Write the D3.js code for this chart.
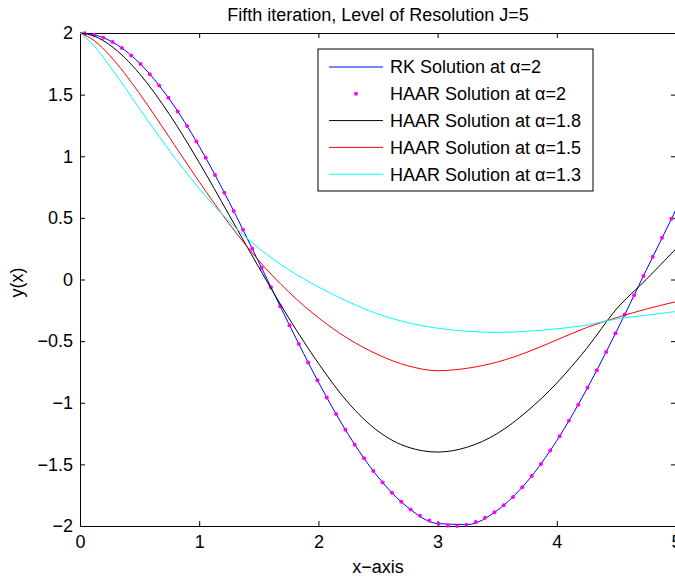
<!DOCTYPE html>
<html>
<head>
<meta charset="utf-8">
<script src="https://cdn.jsdelivr.net/npm/d3@7"></script>
<style>
  body { margin: 0; background: #fff; }
  text { font-family: "Liberation Sans", Arial, Helvetica, sans-serif; }
</style>
</head>
<body>
<div id="chart"></div>
<script>
// grid the solid curves were read on (denser near x=0 where the curves bend fast)
const xGrid = [0, 0.125, 0.25, 0.375, 0.5, 0.75, 1, 1.25, 1.5, 1.75, 2, 2.25, 2.5, 2.75, 3, 3.25, 3.5, 3.75, 4, 4.25, 4.5, 4.75, 5];
const rkY = [2, 1.984, 1.938, 1.861, 1.755, 1.463, 1.081, 0.631, 0.141, -0.356, -0.832, -1.256, -1.602, -1.849, -1.98, -1.988, -1.873, -1.641, -1.307, -0.892, -0.422, 0.075, 0.567];
const haar18Y = [2, 1.972, 1.903, 1.8, 1.669, 1.34, 0.949, 0.525, 0.099, -0.31, -0.68, -1.0, -1.23, -1.36, -1.40, -1.36, -1.25, -1.07, -0.84, -0.56, -0.24, 0.0, 0.25];
const haar15Y = [2, 1.934, 1.817, 1.672, 1.508, 1.153, 0.793, 0.454, 0.153, -0.1, -0.31, -0.48, -0.61, -0.7, -0.74, -0.72, -0.67, -0.59, -0.49, -0.39, -0.31, -0.24, -0.18];
const haar13Y = [2, 1.888, 1.731, 1.561, 1.386, 1.046, 0.738, 0.472, 0.254, 0.08, -0.06, -0.18, -0.28, -0.35, -0.395, -0.42, -0.43, -0.42, -0.4, -0.37, -0.32, -0.29, -0.26];

// collocation points (magenta dots)
const haarX = [0.0391, 0.1172, 0.1953, 0.2734, 0.3516, 0.4297, 0.5078, 0.5859, 0.6641, 0.7422, 0.8203, 0.8984, 0.9766, 1.0547, 1.1328, 1.2109,
  1.2891, 1.3672, 1.4453, 1.5234, 1.6016, 1.6797, 1.7578, 1.8359, 1.9141, 1.9922, 2.0703, 2.1484, 2.2266, 2.3047, 2.3828, 2.4609,
  2.5391, 2.6172, 2.6953, 2.7734, 2.8516, 2.9297, 3.0078, 3.0859, 3.1641, 3.2422, 3.3203, 3.3984, 3.4766, 3.5547, 3.6328, 3.7109,
  3.7891, 3.8672, 3.9453, 4.0234, 4.1016, 4.1797, 4.2578, 4.3359, 4.4141, 4.4922, 4.5703, 4.6484, 4.7266, 4.8047, 4.8828, 4.9609];
const haar2Y = [1.998, 1.986, 1.962, 1.926, 1.878, 1.818, 1.748, 1.666, 1.575, 1.474, 1.364, 1.246, 1.12, 0.987, 0.848, 0.704,
  0.556, 0.404, 0.25, 0.095, -0.062, -0.217, -0.372, -0.524, -0.673, -0.818, -0.958, -1.092, -1.22, -1.34, -1.451, -1.554,
  -1.648, -1.731, -1.804, -1.866, -1.916, -1.955, -1.982, -1.997, -1.999, -1.99, -1.968, -1.934, -1.889, -1.832, -1.764, -1.685,
  -1.595, -1.496, -1.388, -1.272, -1.147, -1.016, -0.878, -0.736, -0.588, -0.437, -0.283, -0.128, 0.028, 0.184, 0.339, 0.492];

const xTicks = [0, 1, 2, 3, 4, 5];
const yTicks = [-2, -1.5, -1, -0.5, 0, 0.5, 1, 1.5, 2];
const legendLabels = ['RK Solution at \u03b1=2', 'HAAR Solution at \u03b1=2', 'HAAR Solution at \u03b1=1.8', 'HAAR Solution at \u03b1=1.5', 'HAAR Solution at \u03b1=1.3'];

const W = 675, H = 577;
const mLeft = 80, mRight = 676, mTop = 33, mBottom = 526;
const fmt = d => String(d).replace('-', '\u2212');

const svg = d3.select('#chart').append('svg')
    .attr('width', W)
    .attr('height', H)
    .style('display', 'block');
svg.append('rect').attr('width', W).attr('height', H).attr('fill', '#fff');

const x = d3.scaleLinear().domain([0, 5]).range([mLeft, mRight]);
const y = d3.scaleLinear().domain([-2, 2]).range([mBottom, mTop]);

// axes, MATLAB style: ticks inside on all four sides
const styleAxis = g => {
    g.selectAll('path.domain').attr('stroke', '#000').attr('stroke-width', 1);
    g.selectAll('.tick line').attr('stroke', '#000').attr('stroke-width', 1);
    g.selectAll('text').attr('font-size', 18).attr('fill', '#000')
        .attr('font-family', '"Liberation Sans", Arial, sans-serif');
};
svg.append('g').attr('transform', `translate(0,${mBottom})`)
    .call(d3.axisBottom(x).tickValues(xTicks).tickSize(-5).tickSizeOuter(0).tickPadding(9).tickFormat(fmt))
    .call(styleAxis);
svg.append('g').attr('transform', `translate(0,${mTop})`)
    .call(d3.axisTop(x).tickValues(xTicks).tickSize(-5).tickSizeOuter(0).tickFormat(''))
    .call(styleAxis);
svg.append('g').attr('transform', `translate(${mLeft},0)`)
    .call(d3.axisLeft(y).tickValues(yTicks).tickSize(-5).tickSizeOuter(0).tickPadding(7).tickFormat(fmt))
    .call(styleAxis);
svg.append('g').attr('transform', `translate(${mRight},0)`)
    .call(d3.axisRight(y).tickValues(yTicks).tickSize(-5).tickSizeOuter(0).tickFormat(''))
    .call(styleAxis);

// curves
const line = d3.line().x(d => x(d[0])).y(d => y(d[1])).curve(d3.curveMonotoneX);
const series = [
    { ys: haar18Y, color: '#000000' },
    { ys: haar15Y, color: '#ff0000' },
    { ys: haar13Y, color: '#00ffff' }
];
const plot = svg.append('g');
plot.append('path')
    .attr('d', line(xGrid.map((v, i) => [v, rkY[i]])))
    .attr('fill', 'none').attr('stroke', '#0000ff').attr('stroke-width', 1);
plot.selectAll('circle.haar')
    .data(haarX.map((v, i) => [v, haar2Y[i]]))
    .enter().append('circle')
    .attr('class', 'haar')
    .attr('cx', d => x(d[0]))
    .attr('cy', d => y(d[1]))
    .attr('r', 2)
    .attr('fill', '#ff00ff');
series.forEach(s => {
    plot.append('path')
        .attr('d', line(xGrid.map((v, i) => [v, s.ys[i]])))
        .attr('fill', 'none').attr('stroke', s.color).attr('stroke-width', 1);
});

// title and labels
svg.append('text').attr('x', (mLeft + mRight) / 2).attr('y', 21)
    .attr('text-anchor', 'middle').attr('font-size', 18).text('Fifth iteration, Level of Resolution J=5');
svg.append('text').attr('x', (mLeft + mRight) / 2).attr('y', 573)
    .attr('text-anchor', 'middle').attr('font-size', 18).text('x\u2212axis');
svg.append('text').attr('transform', `translate(23,${(mTop + mBottom) / 2 + 3}) rotate(-90)`)
    .attr('text-anchor', 'middle').attr('font-size', 18).text('y(x)');

// legend
const legend = svg.append('g');
legend.append('rect').attr('x', 318).attr('y', 49).attr('width', 275).attr('height', 142)
    .attr('fill', '#fff').attr('stroke', '#000').attr('stroke-width', 1);
const legendColors = ['#0000ff', '#ff00ff', '#000000', '#ff0000', '#00ffff'];
legendLabels.forEach((lab, i) => {
    const ly = 67 + i * 26.8;
    if (i === 1) {
        legend.append('circle').attr('cx', 356).attr('cy', ly).attr('r', 2).attr('fill', legendColors[i]);
    } else {
        legend.append('line').attr('x1', 329).attr('x2', 383).attr('y1', ly).attr('y2', ly)
            .attr('stroke', legendColors[i]).attr('stroke-width', 1);
    }
    legend.append('text').attr('x', 390).attr('y', ly).attr('dy', '0.35em')
        .attr('font-size', 18).text(lab);
});
</script>
</body>
</html>
